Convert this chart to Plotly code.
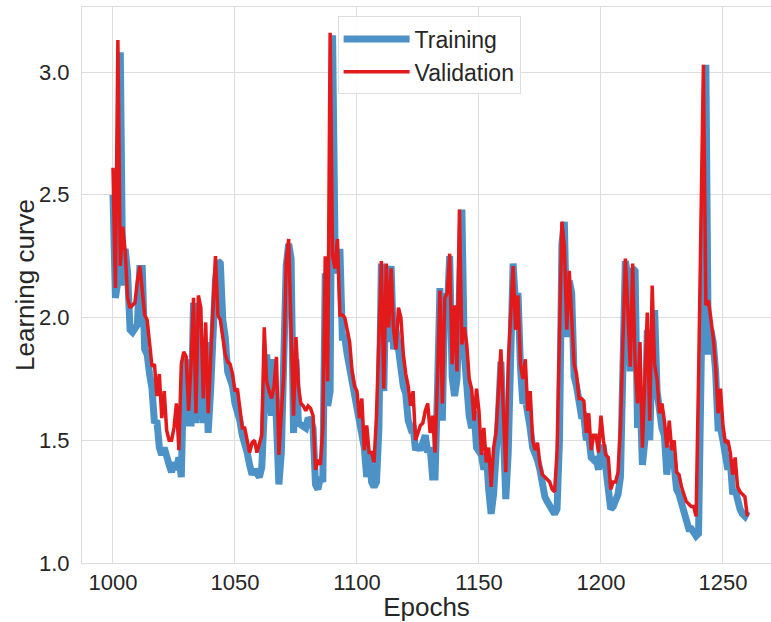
import plotly.graph_objects as go

epochs = list(range(1000, 1261))

validation = [
    2.61, 2.12, 3.13, 2.21, 2.37, 2.27, 2.08, 2.04, 2.05, 2.06,
    2.15, 2.21, 2.11, 2.01, 1.99, 1.90, 1.80, 1.81, 1.68, 1.77,
    1.59, 1.70, 1.54, 1.50, 1.50, 1.55, 1.65, 1.46, 1.81, 1.86,
    1.84, 1.62, 1.81, 2.08, 1.61, 2.09, 2.04, 1.67, 1.98, 1.61,
    1.81, 2.04, 2.25, 2.01, 1.99, 1.92, 1.85, 1.82, 1.81, 1.77,
    1.70, 1.71, 1.62, 1.55, 1.55, 1.49, 1.45, 1.49, 1.50, 1.45,
    1.48, 1.52, 1.96, 1.74, 1.70, 1.67, 1.72, 1.84, 1.44, 1.62,
    1.77, 2.23, 2.32, 1.95, 1.60, 1.92, 1.72, 1.65, 1.64, 1.62,
    1.64, 1.63, 1.60, 1.38, 1.42, 1.40, 1.55, 2.25, 1.74, 3.16,
    2.25, 2.20, 2.32, 2.01, 2.01, 2.00, 1.95, 1.90, 1.78, 1.72,
    1.70, 1.59, 1.67, 1.46, 1.56, 1.45, 1.45, 1.41, 1.60, 1.95,
    2.23, 1.71, 2.22, 1.96, 2.20, 1.95, 1.87, 2.04, 2.00, 1.85,
    1.77, 1.72, 1.64, 1.70, 1.50, 1.53, 1.56, 1.57, 1.62, 1.65,
    1.53, 1.60, 1.45, 1.75, 2.11, 1.65, 2.08, 2.10, 2.26, 1.81,
    2.05, 1.78, 2.44, 1.89, 1.96, 1.89, 1.75, 1.71, 1.58, 1.71,
    1.62, 1.44, 1.55, 1.41, 1.47, 1.31, 1.47, 1.53, 1.70, 1.87,
    1.62, 1.37, 1.81, 2.05, 2.21, 1.95, 2.09, 1.81, 1.75, 1.83,
    1.62, 1.70, 1.50, 1.46, 1.49, 1.40, 1.36, 1.35, 1.34, 1.33,
    1.30, 1.29, 1.45, 1.95, 2.39, 2.29, 1.95, 2.19, 2.00, 1.81,
    1.77, 1.67, 1.67, 1.66, 1.53, 1.61, 1.46, 1.52, 1.52, 1.45,
    1.60, 1.50, 1.44, 1.43, 1.30, 1.33, 1.33, 1.37, 1.55, 1.96,
    2.24, 2.04, 1.80, 2.22, 1.81, 1.65, 1.90, 1.47, 1.71, 2.02,
    1.58, 2.13, 1.81, 1.75, 1.61, 1.65, 1.58, 1.47, 1.58, 1.46,
    1.50, 1.37, 1.36, 1.31, 1.28, 1.25, 1.24, 1.23, 1.23, 1.19,
    1.75, 2.40, 3.03, 2.05, 2.07, 2.00, 1.92, 1.80, 1.61, 1.71,
    1.56, 1.49, 1.50, 1.45, 1.36, 1.43, 1.31, 1.29, 1.28, 1.27,
    1.19,
]

training = [
    2.50, 2.08, 2.15, 3.08, 2.13, 2.28, 2.18, 1.95, 1.94, 1.96,
    1.97, 2.20, 2.20, 1.87, 1.85, 1.77, 1.71, 1.57, 1.58, 1.47,
    1.44, 1.47, 1.42, 1.40, 1.37, 1.41, 1.38, 1.43, 1.35, 1.78,
    1.83, 1.57, 1.57, 2.06, 1.57, 1.99, 1.80, 1.57, 1.90, 1.53,
    1.70, 1.98, 2.15, 2.23, 2.22, 1.99, 1.92, 1.78, 1.74, 1.72,
    1.65, 1.62, 1.58, 1.52, 1.49, 1.45, 1.40, 1.36, 1.38, 1.36,
    1.35, 1.39, 1.60, 1.85, 1.69, 1.60, 1.83, 1.60, 1.32, 1.45,
    1.77, 2.21, 2.30, 2.24, 1.53, 1.83, 1.57, 1.56, 1.56, 1.55,
    1.59, 1.58, 1.55, 1.32, 1.30, 1.35, 1.33, 2.18, 1.64, 1.70,
    3.15, 2.30, 2.18, 2.28, 1.92, 1.92, 1.85, 1.80, 1.72, 1.68,
    1.62, 1.60, 1.52, 1.47, 1.35, 1.45, 1.33, 1.31, 1.33, 1.55,
    2.22, 1.70, 2.21, 1.90, 2.21, 1.87, 1.95, 1.85, 1.75, 1.72,
    1.69, 1.58, 1.55, 1.56, 1.46, 1.48, 1.46, 1.50, 1.52, 1.45,
    1.47, 1.35, 1.35, 1.70, 2.12, 1.58, 2.10, 2.02, 2.25, 1.76,
    1.68, 1.75, 2.20, 2.44, 1.85, 1.68, 1.60, 1.55, 1.62, 1.47,
    1.46, 1.44, 1.38, 1.45, 1.30, 1.20, 1.28, 1.40, 1.60, 1.82,
    1.50, 1.26, 1.45, 2.00, 2.22, 2.05, 2.10, 1.80, 1.65, 1.67,
    1.58, 1.55, 1.47, 1.45, 1.42, 1.38, 1.30, 1.27, 1.25, 1.23,
    1.21, 1.20, 1.22, 1.50, 2.30, 2.39, 1.92, 2.15, 2.10, 1.76,
    1.72, 1.65, 1.60, 1.60, 1.50, 1.52, 1.43, 1.42, 1.43, 1.38,
    1.47, 1.47, 1.38, 1.35, 1.22, 1.23, 1.26, 1.28, 1.35, 1.75,
    2.23, 2.17, 1.78, 2.20, 2.19, 1.55, 1.70, 1.40, 1.50, 1.95,
    1.50, 1.85, 2.03, 1.70, 1.62, 1.55, 1.52, 1.36, 1.48, 1.40,
    1.40, 1.30, 1.28, 1.25, 1.22, 1.17, 1.14, 1.14, 1.12, 1.11,
    1.12, 1.70, 2.40, 3.03, 1.85, 1.95, 1.90, 1.78, 1.55, 1.55,
    1.50, 1.45, 1.38, 1.42, 1.28, 1.30, 1.25, 1.22, 1.20, 1.19,
    1.21,
]

x_ticks = [1000, 1050, 1100, 1150, 1200, 1250]
y_ticks = [1.0, 1.5, 2.0, 2.5, 3.0]

FONT = "Liberation Sans, Arial, sans-serif"
GRID = "#dddddd"
TXT = "#262626"

fig = go.Figure()
fig.add_trace(go.Scatter(
    x=epochs, y=training, mode="lines", name="Training",
    line=dict(color="rgba(58,134,193,0.9)", width=7),
))
fig.add_trace(go.Scatter(
    x=epochs, y=validation, mode="lines", name="Validation",
    line=dict(color="#e31a1c", width=3.5),
))

fig.update_layout(
    width=771, height=622,
    margin=dict(l=82, r=0, t=7, b=59),
    paper_bgcolor="white", plot_bgcolor="white",
    font=dict(family=FONT, color=TXT),
    showlegend=True,
    legend=dict(
        x=0.371, y=0.983, xanchor="left", yanchor="top",
        bgcolor="rgba(255,255,255,0.85)", bordercolor="#dddddd", borderwidth=1,
        font=dict(size=23, family=FONT, color=TXT),
        tracegroupgap=0, itemwidth=66,
    ),
    xaxis=dict(
        range=[987.3, 1269.7], tickvals=x_ticks,
        tickfont=dict(size=22, family=FONT, color=TXT),
        showgrid=True, gridcolor=GRID, gridwidth=1,
        showline=True, linecolor=GRID, linewidth=1, mirror=True,
        zeroline=False, ticks="", ticklabelstandoff=0,
        title=dict(text="Epochs", font=dict(size=26, family=FONT, color=TXT), standoff=3),
    ),
    yaxis=dict(
        range=[1.0, 3.265], tickvals=y_ticks, tickformat=".1f",
        tickfont=dict(size=22, family=FONT, color=TXT),
        showgrid=True, gridcolor=GRID, gridwidth=1,
        showline=True, linecolor=GRID, linewidth=1, mirror=True,
        zeroline=False, ticks="", ticklabelstandoff=7,
    ),
    annotations=[dict(
        text="Learning curve", textangle=-90,
        xref="paper", yref="paper", x=(25 - 82) / 689, y=0.5,
        xanchor="center", yanchor="middle", showarrow=False,
        font=dict(size=26, family=FONT, color=TXT),
    )],
)

fig.write_html("out.html")
